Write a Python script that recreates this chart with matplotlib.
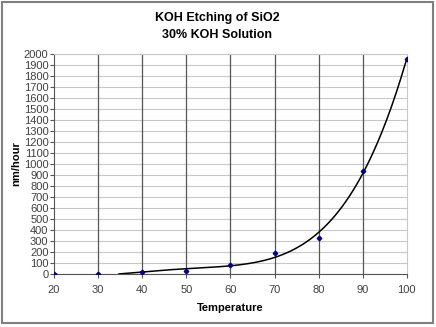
import numpy as np
import matplotlib
matplotlib.use("Agg")
import matplotlib.pyplot as plt
from matplotlib.patches import Rectangle

# Data
temperature = [20, 30, 40, 50, 60, 70, 80, 90, 100]
etch_rate = [0, 0, 15, 30, 79, 191, 327, 936, 1954]

plt.rcParams['font.family'] = ['Liberation Sans', 'DejaVu Sans']

fig = plt.figure(figsize=(4.36, 3.27), dpi=100)
ax = fig.add_axes([0.124, 0.162, 0.809, 0.673])

# polynomial trendline (Excel-style), clipped at zero
coef = np.polyfit(temperature, etch_rate, 4)
xs = np.linspace(20, 100, 300)
ys = np.polyval(coef, xs)
ys = np.where(ys < 0, np.nan, ys)
ax.plot(xs, ys, color='black', lw=1.1, zorder=3)

ax.plot(temperature, etch_rate, linestyle='none', marker='D', markersize=2.3,
        color='#000080', zorder=4)

ax.set_xlim(20, 100)
ax.set_ylim(0, 2000)
ax.set_xticks(range(20, 101, 10))
ax.set_yticks(range(0, 2001, 100))

ax.grid(True, axis='y', color='#c8c8c8', lw=0.8)
for xv in range(30, 100, 10):
    ax.axvline(xv, color='#555555', lw=0.9, zorder=1)
ax.set_axisbelow(True)

ax.tick_params(axis='both', labelsize=8, colors='#555555', labelcolor='#404040',
               length=3, width=0.8)
ax.tick_params(axis='x', pad=5)
ax.tick_params(axis='y', pad=1)
ax.spines['left'].set_color('#555555')
ax.spines['bottom'].set_color('#555555')
ax.spines['top'].set_color('#c8c8c8')
ax.spines['right'].set_color('#c8c8c8')

ax.set_xlabel('Temperature', fontsize=8, fontweight='bold', labelpad=6)
ax.set_ylabel('nm/hour', fontsize=8, fontweight='bold', labelpad=2)

fig.text(0.498, 0.945, 'KOH Etching of SiO2', ha='center', va='center',
         fontsize=9, fontweight='bold')
fig.text(0.498, 0.893, '30% KOH Solution', ha='center', va='center',
         fontsize=9, fontweight='bold')

fig.patches.append(Rectangle((0.004, 0.012), 0.988, 0.982, transform=fig.transFigure,
                             fill=False, edgecolor='#808080', lw=1.5))

fig.savefig('out.png', dpi=100)
